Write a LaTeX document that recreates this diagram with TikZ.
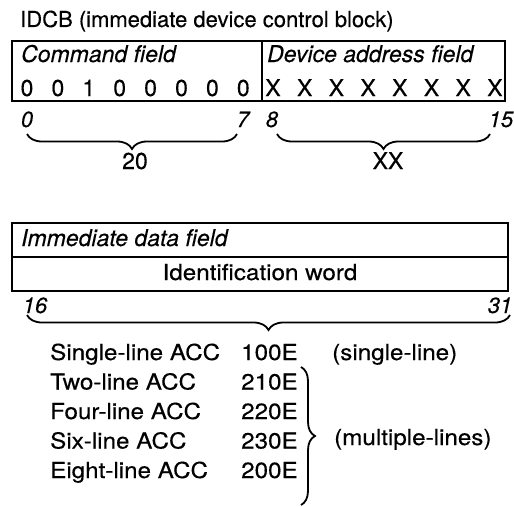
\documentclass[tikz,border=0pt]{standalone}
\usepackage{fontspec}
\setmainfont[FakeBold=0.3]{TeX Gyre Heros}
\newfontfamily\widefont[FakeStretch=1.1,FakeBold=0.3]{TeX Gyre Heros}
\usetikzlibrary{decorations.pathreplacing}
\tikzset{
  boxline/.style={line width=1.7pt},
  titletxt/.style={inner sep=0pt, anchor=base west, font=\fontsize{22}{24}\selectfont},
  fieldtxt/.style={inner sep=0pt, anchor=base west, font=\fontsize{23}{24}\selectfont\itshape},
  digit/.style={inner sep=0pt, anchor=base, font=\fontsize{23}{24}\selectfont},
  bitnum/.style={inner sep=0pt, anchor=base, font=\fontsize{22}{24}\selectfont\itshape},
  rowtxt/.style={inner sep=0pt, anchor=base west, font=\fontsize{22}{24}\widefont},
  hbrace/.style={line width=1.8pt, decorate, decoration={brace, mirror, amplitude=#1}},
  vbrace/.style={line width=1.8pt, decorate, decoration={brace, amplitude=#1}}
}
\begin{document}
\begin{tikzpicture}[x=1pt,y=-1pt]
\useasboundingbox (0,0) rectangle (514,506);
\node[titletxt] (title) at (20,27) {IDCB (immediate device control block)};
% first box
\draw[boxline] (12,41) rectangle (505,101);
\draw[boxline] (262,41) -- (262,101);
\node[fieldtxt] (cmd) at (21,62) {Command field};
\node[fieldtxt] (dev) at (267,62) {Device address field};
\foreach \d [count=\i from 0] in {0,0,1,0,0,0,0,0}
  \node[digit] (c\i) at ({27+30.9*\i},96) {\d};
\foreach \i in {0,...,7}
  \node[digit] (x\i) at ({273+31.7*\i},96) {X};
\node[bitnum] (b0) at (27,127) {0};
\node[bitnum] (b7) at (243,127) {7};
\node[bitnum] (b8) at (272,127) {8};
\node[bitnum] (b15) at (501,127) {15};
\coordinate (br1a) at (27,134);
\coordinate (br1b) at (237,134);
\coordinate (br2a) at (277,134);
\coordinate (br2b) at (490,134);
\draw[hbrace=15pt] (br1a) -- (br1b);
\draw[hbrace=15pt] (br2a) -- (br2b);
\node[digit] (v20) at (135,169) {20};
\node[digit] (vxx) at (388,169) {XX};
% second box
\draw[boxline] (12,223) rectangle (508,291);
\draw[boxline] (12,257) -- (508,257);
\node[fieldtxt] (imm) at (21,246) {Immediate data field};
\node[inner sep=0pt, anchor=base, font=\fontsize{22}{24}\widefont] (idw) at (260,280) {Identification word};
\node[bitnum] (b16) at (35,313) {16};
\node[bitnum] (b31) at (500,313) {31};
\coordinate (br3a) at (27,315);
\coordinate (br3b) at (510,315);
\draw[hbrace=15pt] (br3a) -- (br3b);
% list
\foreach \n/\c/\y [count=\k] in {Single-line ACC/100E/360, Two-line ACC/210E/389.5, Four-line ACC/220E/419, Six-line ACC/230E/448.5, Eight-line ACC/200E/478}{
  \node[rowtxt] (n\k) at (50,\y) {\n};
  \node[rowtxt] (e\k) at (241,\y) {\c};
}
\node[rowtxt] (single) at (332,360) {(single-line)};
\coordinate (br4a) at (301,367);
\coordinate (br4b) at (301,505);
\draw[vbrace=14pt] (br4a) -- (br4b);
\node[rowtxt] (multi) at (334,445) {(multiple-lines)};
\end{tikzpicture}
\end{document}
